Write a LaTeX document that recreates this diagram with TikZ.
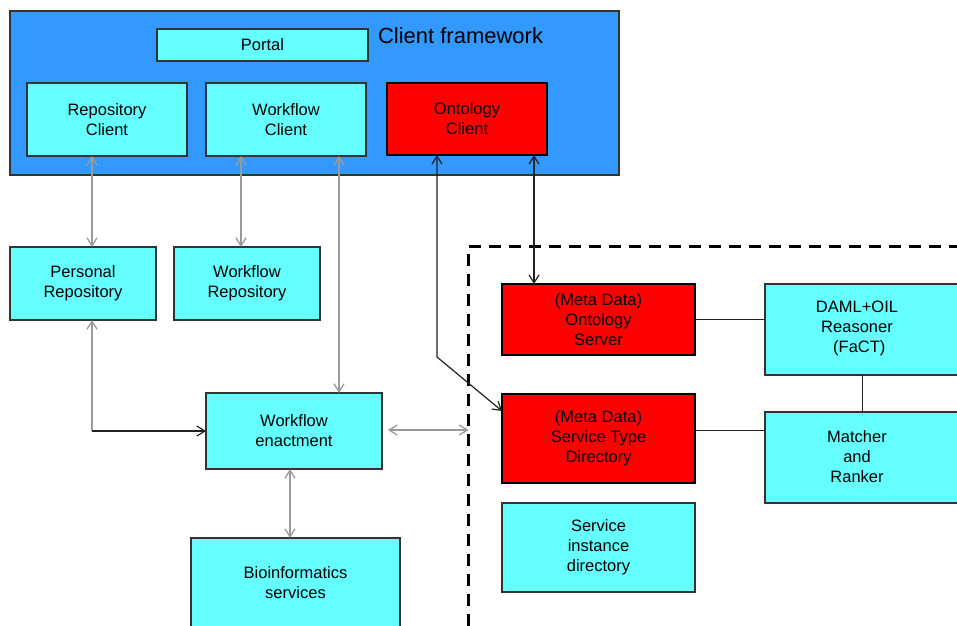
\documentclass[tikz,border=0pt]{standalone}
\usepackage{fontspec}
\setmainfont{Liberation Sans}
\usetikzlibrary{arrows.meta}
\definecolor{frameblue}{HTML}{3399FF}
\definecolor{boxcyan}{HTML}{66FFFF}
\definecolor{boxred}{HTML}{FF0000}
\definecolor{linegray}{HTML}{9A9A9A}
\definecolor{edgedark}{HTML}{333333}
\definecolor{linedark}{HTML}{222222}
\begin{document}
\begin{tikzpicture}[x=1pt,y=-1pt,
  every node/.style={font=\fontsize{16.5}{20}\selectfont, align=center, inner sep=0pt, outer sep=0pt},
  cbox/.style={draw=edgedark, line width=1.1pt, fill=boxcyan},
  rbox/.style={draw=black, line width=2.4pt, fill=boxred},
  barb/.tip={Straight Barb[length=8pt,width=10pt]},
  gline/.style={draw=linegray, line width=1.3pt},
  dline/.style={draw=linedark, line width=1.2pt},
  boundary/.style={draw=black, line width=3pt, dash pattern=on 12pt off 8pt}
]
\useasboundingbox (0,0) rectangle (957,625);
\fill[white] (0,0) rectangle (957,625);

% client framework
\node[draw=edgedark, line width=1.1pt, fill=frameblue, minimum width=609pt, minimum height=164pt] (cf) at (314.5,93) {};
\node[anchor=west, font=\fontsize{22}{26}\selectfont] (cft) at (378,36) {Client framework};
\node[cbox, minimum width=211pt, minimum height=32pt] (portal) at (262.5,45) {Portal};
\node[cbox, minimum width=160pt, minimum height=73pt] (rc) at (107,119.5) {Repository\\Client};
\node[cbox, minimum width=160pt, minimum height=73pt] (wc) at (286,119.5) {Workflow\\Client};
\node[rbox, minimum width=160pt, minimum height=72pt] (oc) at (467,119) {Ontology\\Client};

% left side
\node[cbox, minimum width=146pt, minimum height=73pt] (pr) at (83,283.5) {Personal\\Repository};
\node[cbox, minimum width=146pt, minimum height=73pt] (wr) at (247,283.5) {Workflow\\Repository};
\node[cbox, minimum width=176pt, minimum height=76pt] (we) at (294,431) {Workflow\\enactment};
\node[cbox, minimum width=209pt, minimum height=90pt] (bio) at (295.5,583) {Bioinformatics\\services};

% dashed region
\coordinate (bc) at (468.5,246);
\draw[boundary] (bc) -- (970,246);
\draw[boundary, dash phase=12pt] (bc) -- (468.5,640);
\coordinate (dl) at (468.5,430);

\node[rbox, minimum width=193pt, minimum height=71pt] (os) at (598.5,319.5) {(Meta Data)\\Ontology\\Server};
\node[rbox, minimum width=193pt, minimum height=89pt] (st) at (598.5,438.5) {(Meta Data)\\Service Type\\Directory};
\node[cbox, minimum width=193pt, minimum height=89pt] (si) at (598.5,547.5) {Service\\instance\\directory};
\node[cbox, minimum width=197pt, minimum height=91pt] (daml) at (863.5,329.5) {};
\node (damlt) at (857,328.5) {DAML+OIL\\Reasoner\\\ (FaCT)};
\node[cbox, minimum width=197pt, minimum height=91pt] (mr) at (863.5,457.5) {};
\node (mrt) at (857,456.5) {Matcher\\and\\Ranker};

% connectors
\draw[gline, barb-barb] ([xshift=65pt]rc.south west) -- ([xshift=65pt]rc.south west |- pr.north);
\draw[gline, barb-barb] ([xshift=35pt]wc.south west) -- ([xshift=35pt]wc.south west |- wr.north);
\draw[gline, barb-barb] ([xshift=-27pt]wc.south east) -- ([xshift=-27pt]wc.south east |- we.north);
\coordinate (prc) at ([xshift=9pt]pr.south |- we.west);
\draw[gline, barb-] ([xshift=9pt]pr.south) -- (prc);
\draw[dline, -barb] (prc) -- (we.west);
\draw[gline, barb-barb] ([xshift=-4pt]we.south) -- ([xshift=-4pt]we.south |- bio.north);
\draw[gline, barb-barb] ([xshift=6pt,yshift=1pt]we.east) -- (dl);

\coordinate (occ) at ([xshift=50pt]oc.south west |- 0,357);
\draw[dline, barb-barb] ([xshift=50pt]oc.south west) -- (occ) -- ([yshift=-17pt]st.north west);
\draw[dline, barb-barb] ([xshift=-13pt]oc.south east) -- ([xshift=-13pt]oc.south east |- os.north);

\draw[dline] (os.east) -- (os.east -| daml.west);
\draw[dline] ([yshift=8pt]st.east) -- ([yshift=8pt]st.east -| mr.west);
\draw[dline] ([xshift=-1pt]daml.south) -- ([xshift=-1pt]daml.south |- mr.north);
\end{tikzpicture}
\end{document}
